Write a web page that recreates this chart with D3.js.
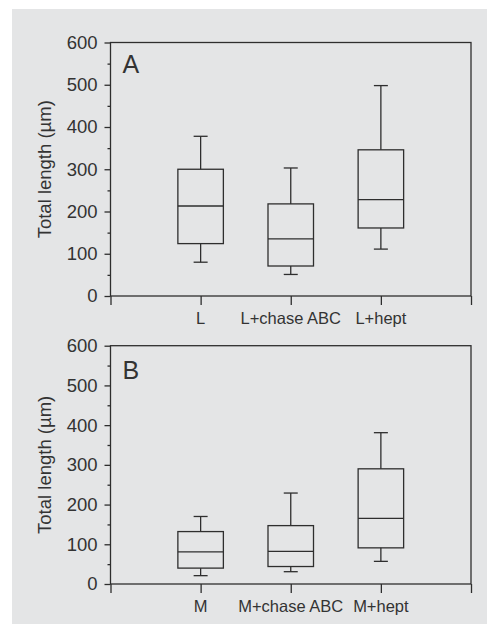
<!DOCTYPE html>
<html>
<head>
<meta charset="utf-8">
<script src="https://cdn.jsdelivr.net/npm/d3@7"></script>
<style>
	body { margin: 0; background: #fff; }
	svg text { font-family: "Liberation Sans", Arial, sans-serif; fill: #333; }
</style>
</head>
<body>
<svg id="chart"></svg>
<script>
// categories for each panel
const catsA = ["L", "L+chase ABC", "L+hept"];
const catsB = ["M", "M+chase ABC", "M+hept"];

// box stats (µm)
const lowA = [80, 51, 111];
const q1A = [124, 71, 161];
const medA = [213, 135, 228];
const q3A = [300, 218, 346];
const highA = [378, 303, 498];

const lowB = [21, 31, 57];
const q1B = [40, 44, 91];
const medB = [81, 82, 165];
const q3B = [132, 147, 290];
const highB = [170, 229, 381];

const yTicks = [0, 100, 200, 300, 400, 500, 600];
const yMinor = [50, 150, 250, 350, 450, 550];
const yTitle = "Total length (µm)";

const W = 487, H = 625;
const ink = "#2e2e2e";

const svg = d3.select("#chart").attr("width", W).attr("height", H);

svg.append("rect") //grey background
	.attr("x", 12).attr("y", 9)
	.attr("width", W - 12).attr("height", 615)
	.attr("fill", "#e4e5e6");

function panel(opts) {
	const x = d3.scaleLinear().domain([0, 4]).range([110.5, 471]);
	const y = d3.scaleLinear().domain([0, 600]).range([opts.bottom, opts.top]);
	const g = svg.append("g");

	//frame
	g.append("rect")
		.attr("x", x(0)).attr("y", y(600))
		.attr("width", x(4) - x(0)).attr("height", y(0) - y(600))
		.attr("fill", "none").attr("stroke", ink).attr("stroke-width", 1.3);

	//y axis, major + minor ticks
	const ya = g.append("g").attr("transform", `translate(${x(0)},0)`)
		.call(d3.axisLeft(y).tickValues(yTicks).tickSize(6).tickPadding(7));
	ya.select(".domain").remove();
	ya.selectAll("line").attr("stroke", ink).attr("stroke-width", 1.3);
	ya.selectAll("text").style("font-size", "18.5px").attr("fill", "#333");
	const ym = g.append("g").attr("transform", `translate(${x(0)},0)`)
		.call(d3.axisLeft(y).tickValues(yMinor).tickSize(3).tickFormat(""));
	ym.select(".domain").remove();
	ym.selectAll("line").attr("stroke", ink).attr("stroke-width", 1.3);

	//x axis ticks pointing down
	const xa = g.append("g").attr("transform", `translate(0,${y(0)})`)
		.call(d3.axisBottom(x).tickValues([0, 1, 2, 3, 4]).tickSize(9).tickFormat(""));
	xa.select(".domain").remove();
	xa.selectAll("line").attr("stroke", ink).attr("stroke-width", 1.3);

	//category labels
	g.selectAll(".cat")
		.data(opts.cats)
		.enter()
		.append("text")
		.attr("x", (d, i) => x(i + 1))
		.attr("y", y(0) + 28)
		.attr("text-anchor", "middle")
		.style("font-size", "16.5px")
		.text((d) => d);

	//axis title
	g.append("text")
		.attr("transform", `translate(51,${(y(0) + y(600)) / 2}) rotate(-90)`)
		.attr("text-anchor", "middle")
		.style("font-size", "18.5px")
		.text(yTitle);

	//panel letter
	g.append("text")
		.attr("x", 122.5)
		.attr("y", y(600) + opts.letterDy)
		.style("font-size", "25px")
		.text(opts.letter);

	//boxes
	const bw = 45.5, cap = 14;
	opts.cats.forEach((c, i) => {
		const cx = x(i + 1);
		const bg = g.append("g").attr("stroke", ink).attr("stroke-width", 1.3).attr("fill", "none");
		bg.append("line").attr("x1", cx).attr("x2", cx).attr("y1", y(opts.q3[i])).attr("y2", y(opts.high[i]));
		bg.append("line").attr("x1", cx).attr("x2", cx).attr("y1", y(opts.q1[i])).attr("y2", y(opts.low[i]));
		bg.append("line").attr("x1", cx - cap / 2).attr("x2", cx + cap / 2).attr("y1", y(opts.high[i])).attr("y2", y(opts.high[i]));
		bg.append("line").attr("x1", cx - cap / 2).attr("x2", cx + cap / 2).attr("y1", y(opts.low[i])).attr("y2", y(opts.low[i]));
		bg.append("rect")
			.attr("x", cx - bw / 2).attr("width", bw)
			.attr("y", y(opts.q3[i])).attr("height", y(opts.q1[i]) - y(opts.q3[i]));
		bg.append("line").attr("x1", cx - bw / 2).attr("x2", cx + bw / 2).attr("y1", y(opts.med[i])).attr("y2", y(opts.med[i]));
	});
}

panel({ top: 42.5, bottom: 296, cats: catsA, low: lowA, q1: q1A, med: medA, q3: q3A, high: highA, letter: "A", letterDy: 30 });
panel({ top: 345.7, bottom: 584, cats: catsB, low: lowB, q1: q1B, med: medB, q3: q3B, high: highB, letter: "B", letterDy: 33.5 });
</script>
</body>
</html>
